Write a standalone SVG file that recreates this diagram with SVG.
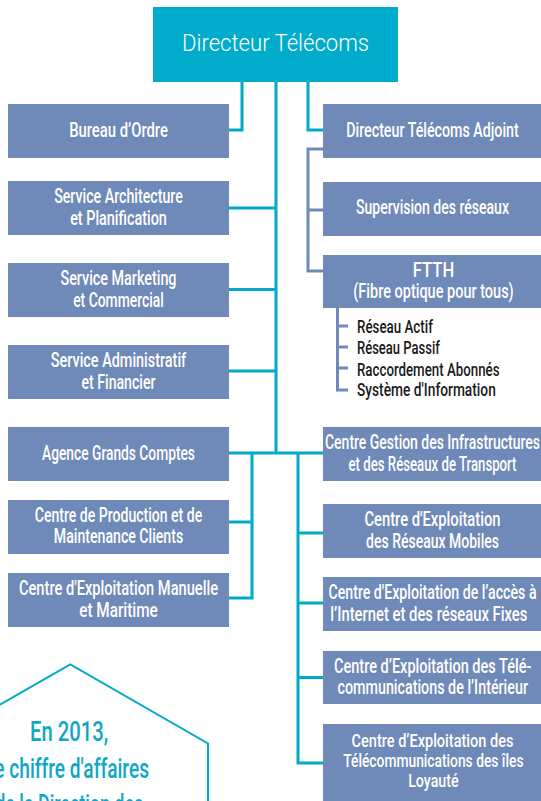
<svg xmlns="http://www.w3.org/2000/svg" width="541" height="801" viewBox="0 0 541 801">
<style>
.box{fill:#6f8ab8}
.top{fill:#00abcb}
.lbl{font-family:Roboto,"Liberation Sans",sans-serif;font-size:20px;font-weight:500;fill:#ffffff;text-anchor:middle}
.sm{font-size:19px}
.ttl{font-family:Roboto,"Liberation Sans",sans-serif;font-size:24px;font-weight:300;fill:#ffffff;text-anchor:middle}
.lst{font-family:Roboto,"Liberation Sans",sans-serif;font-size:19px;font-weight:500;fill:#1a1a1a}
.hx{font-family:Roboto,"Liberation Sans",sans-serif;font-size:28px;font-weight:500;fill:#0fa7c6;text-anchor:middle}
.cy{stroke:#00aac9;stroke-width:3;fill:none}
.gr{stroke:#6f8ab8;stroke-width:3;fill:none}
.hex{stroke:#00aac9;stroke-width:2;fill:none}
</style>

<g id="connectors">
  <path class="cy" d="M242,82 V130 H229"/>
  <path class="cy" d="M308,82 V130 H323"/>
  <path class="cy" d="M276,82 V453"/>
  <path class="cy" d="M229,208 H276 M229,289.5 H276 M229,371 H276"/>
  <path class="cy" d="M229,453 H323"/>
  <path class="cy" d="M252,453 V598 H229 M252,522 H229"/>
  <path class="cy" d="M298,453 V763 H323 M298,533 H323 M298,603 H323 M298,677.5 H323"/>
  <path class="gr" d="M323,149 H308 V271 H323 M308,210 H323"/>
  <path class="gr" d="M337.5,308 V390 H348 M337.5,326 H348 M337.5,347 H348 M337.5,368 H348"/>
</g>

<g id="n-directeur">
  <rect class="top" x="153" y="7" width="245" height="75"/>
  <text class="ttl" x="275.5" y="50.7" textLength="187" lengthAdjust="spacingAndGlyphs">Directeur Télécoms</text>
</g>

<g id="n-bureau">
  <rect class="box" x="8" y="104" width="221" height="54"/>
  <text class="lbl" x="118.5" y="136.7" textLength="98.7" lengthAdjust="spacingAndGlyphs">Bureau d’Ordre</text>
</g>
<g id="n-architecture">
  <rect class="box" x="8" y="181" width="221" height="54"/>
  <text class="lbl" x="118.5" y="203.3" textLength="128.7" lengthAdjust="spacingAndGlyphs">Service Architecture</text>
  <text class="lbl" x="118.5" y="225" textLength="96.7" lengthAdjust="spacingAndGlyphs">et Planification</text>
</g>
<g id="n-marketing">
  <rect class="box" x="8" y="263" width="221" height="54"/>
  <text class="lbl" x="118.5" y="285" textLength="116" lengthAdjust="spacingAndGlyphs">Service Marketing</text>
  <text class="lbl" x="118.5" y="306.7" textLength="90.7" lengthAdjust="spacingAndGlyphs">et Commercial</text>
</g>
<g id="n-administratif">
  <rect class="box" x="8" y="345" width="221" height="54"/>
  <text class="lbl" x="118.5" y="367.3" textLength="135.3" lengthAdjust="spacingAndGlyphs">Service Administratif</text>
  <text class="lbl" x="118.5" y="389" textLength="74" lengthAdjust="spacingAndGlyphs">et Financier</text>
</g>
<g id="n-agence">
  <rect class="box" x="8" y="427" width="221" height="54"/>
  <text class="lbl" x="118.5" y="460" textLength="152.9" lengthAdjust="spacingAndGlyphs">Agence Grands Comptes</text>
</g>
<g id="n-production">
  <rect class="box" x="8" y="500" width="221" height="54"/>
  <text class="lbl" x="118.5" y="521.8" textLength="167.4" lengthAdjust="spacingAndGlyphs">Centre de Production et de</text>
  <text class="lbl" x="118.5" y="543.3" textLength="129.4" lengthAdjust="spacingAndGlyphs">Maintenance Clients</text>
</g>
<g id="n-manuelle">
  <rect class="box" x="8" y="573" width="221" height="54"/>
  <text class="lbl" x="118.5" y="595" textLength="199.1" lengthAdjust="spacingAndGlyphs">Centre d'Exploitation Manuelle</text>
  <text class="lbl" x="118.5" y="616.7" textLength="78.4" lengthAdjust="spacingAndGlyphs">et Maritime</text>
</g>

<g id="n-adjoint">
  <rect class="box" x="323" y="104" width="218" height="54"/>
  <text class="lbl" x="432.5" y="136.7" textLength="172.5" lengthAdjust="spacingAndGlyphs">Directeur Télécoms Adjoint</text>
</g>
<g id="n-supervision">
  <rect class="box" x="323" y="182" width="218" height="54"/>
  <text class="lbl" x="432.5" y="214.3" textLength="152.9" lengthAdjust="spacingAndGlyphs">Supervision des réseaux</text>
</g>
<g id="n-ftth">
  <rect class="box" x="323" y="255" width="218" height="53"/>
  <text class="lbl" x="433.5" y="276.7" textLength="41.4" lengthAdjust="spacingAndGlyphs">FTTH</text>
  <text class="lbl" x="433.5" y="298" textLength="160.4" lengthAdjust="spacingAndGlyphs">(Fibre optique pour tous)</text>
</g>
<g id="n-ftth-list">
  <text class="lst" x="357" y="333" textLength="75.9" lengthAdjust="spacingAndGlyphs">Réseau Actif</text>
  <text class="lst" x="357" y="354" textLength="82.8" lengthAdjust="spacingAndGlyphs">Réseau Passif</text>
  <text class="lst" x="357" y="375.5" textLength="142.5" lengthAdjust="spacingAndGlyphs">Raccordement Abonnés</text>
  <text class="lst" x="357" y="396" textLength="138.8" lengthAdjust="spacingAndGlyphs">Système d'Information</text>
</g>
<g id="n-gestion">
  <rect class="box" x="323" y="427" width="218" height="54"/>
  <text class="lbl" x="432.5" y="449" textLength="215" lengthAdjust="spacingAndGlyphs">Centre Gestion des Infrastructures</text>
  <text class="lbl" x="432.5" y="471" textLength="168" lengthAdjust="spacingAndGlyphs">et des Réseaux de Transport</text>
</g>
<g id="n-mobiles">
  <rect class="box" x="323" y="504" width="218" height="54"/>
  <text class="lbl" x="432.5" y="526" textLength="136" lengthAdjust="spacingAndGlyphs">Centre d'Exploitation</text>
  <text class="lbl" x="432.5" y="547.7" textLength="132.8" lengthAdjust="spacingAndGlyphs">des Réseaux Mobiles</text>
</g>
<g id="n-internet">
  <rect class="box" x="323" y="577" width="218" height="54"/>
  <text class="lbl" x="432.5" y="599" textLength="208.1" lengthAdjust="spacingAndGlyphs">Centre d'Exploitation de l’accès à</text>
  <text class="lbl" x="428.8" y="621" textLength="197.1" lengthAdjust="spacingAndGlyphs">l’Internet et des réseaux Fixes</text>
</g>
<g id="n-interieur">
  <rect class="box" x="323" y="651" width="218" height="53"/>
  <text class="lbl" x="432.7" y="672.5" textLength="197.4" lengthAdjust="spacingAndGlyphs">Centre d’Exploitation des Télé-</text>
  <text class="lbl" x="432.7" y="694.4" textLength="190.5" lengthAdjust="spacingAndGlyphs">communications de l’Intérieur</text>
</g>
<g id="n-loyaute">
  <rect class="box" x="323" y="724" width="218" height="77"/>
  <text class="lbl sm" x="432.5" y="746.7" textLength="162" lengthAdjust="spacingAndGlyphs">Centre d’Exploitation des</text>
  <text class="lbl sm" x="433.4" y="766.7" textLength="180.2" lengthAdjust="spacingAndGlyphs">Télécommunications des îles</text>
  <text class="lbl sm" x="433.4" y="787.3" textLength="50.4" lengthAdjust="spacingAndGlyphs">Loyauté</text>
</g>

<g id="callout">
  <path class="hex" d="M-68,743.5 L70.3,664.3 L208,743.5 V830"/>
  <text class="hx" x="69.2" y="741" textLength="78.3" lengthAdjust="spacingAndGlyphs">En 2013,</text>
  <text class="hx" x="69.2" y="777.7" textLength="159.6" lengthAdjust="spacingAndGlyphs">le chiffre d'affaires</text>
  <text class="hx" x="69.2" y="814.4" textLength="148" lengthAdjust="spacingAndGlyphs">de la Direction des</text>
</g>
</svg>
